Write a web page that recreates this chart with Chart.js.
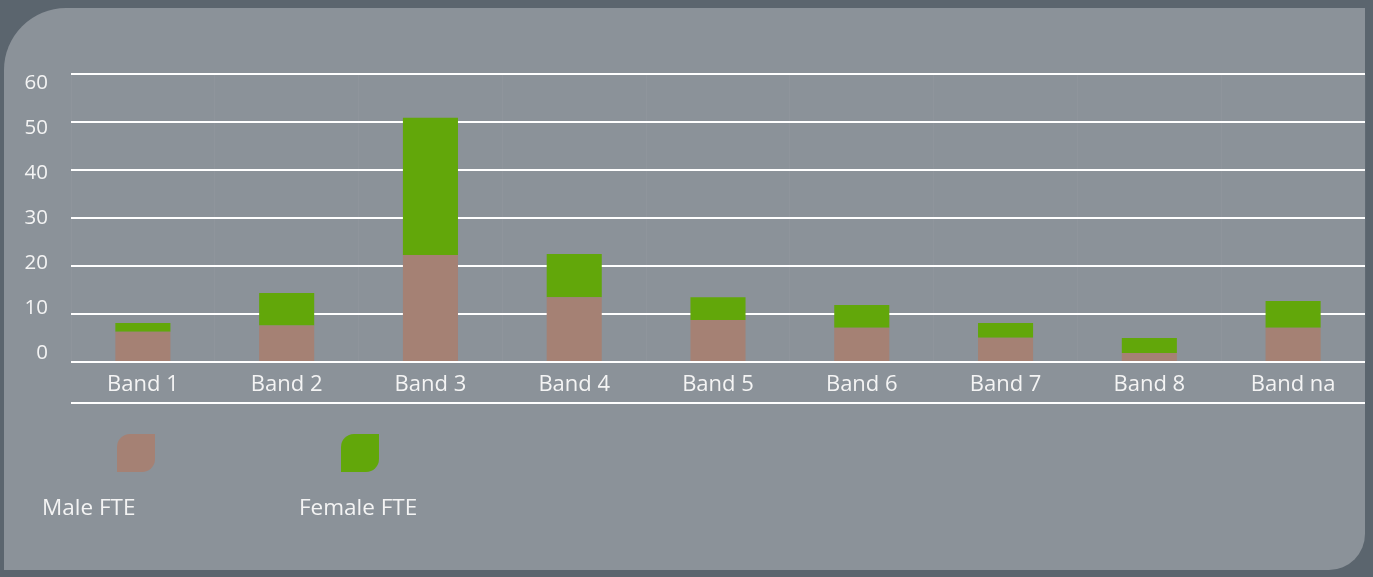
<!DOCTYPE html>
<html>
<head>
<meta charset="utf-8">
<script src="https://cdn.jsdelivr.net/npm/chart.js@4/dist/chart.umd.min.js"></script>
<style>
  html, body { margin: 0; padding: 0; background: #5b656e; }
  #wrap { position: relative; width: 1373px; height: 577px; overflow: hidden; }
  #panel {
    position: absolute; left: 4px; top: 8px; width: 1361px; height: 562px;
    background: #8b9299; border-radius: 62px 0 36px 0;
  }
  #myChart { position: absolute; left: 0; top: 0; }
</style>
</head>
<body>
<div id="wrap">
  <div id="panel"></div>
  <canvas id="myChart" width="1373" height="577"></canvas>
</div>
<script>
// categories and series
var bands = ["Band 1", "Band 2", "Band 3", "Band 4", "Band 5", "Band 6", "Band 7", "Band 8", "Band na"];
var maleFte = [6.3, 7.6, 22.3, 13.5, 8.75, 7.15, 5.05, 1.9, 7.15];
var femaleFte = [1.8, 6.8, 28.6, 9.0, 4.75, 4.75, 3.05, 3.1, 5.55];
var yTicks = [0, 10, 20, 30, 40, 50, 60];

var seriesNames = ["Male FTE", "Female FTE"];
var barColors = ["#a58174", "#62a70a"];

var fontFam = "'Open Sans', 'DejaVu Sans', sans-serif";

// extra line under the labels + legend with leaf shaped markers
var decor = {
  id: "decor",
  afterDraw: function (chart) {
    var ctx = chart.ctx;
    var x = chart.scales.x;
    ctx.save();
    ctx.strokeStyle = "#ffffff";
    ctx.lineWidth = 2;
    ctx.beginPath();
    ctx.moveTo(chart.chartArea.left, x.top + 41);
    ctx.lineTo(chart.chartArea.right, x.top + 41);
    ctx.stroke();

    var iconX = [117, 341];
    var textX = [42, 299];
    chart.data.datasets.forEach(function (ds, i) {
      ctx.fillStyle = ds.backgroundColor;
      ctx.beginPath();
      ctx.roundRect(iconX[i], 434, 38, 38, [13, 0, 13, 0]);
      ctx.fill();
      ctx.fillStyle = "#f4f4f4";
      ctx.font = "22.5px " + fontFam;
      ctx.textBaseline = "middle";
      ctx.textAlign = "left";
      ctx.fillText(ds.label, textX[i], 509);
    });
    ctx.restore();
  }
};

new Chart("myChart", {
  type: "bar",
  data: {
    labels: bands,
    datasets: [
      { label: seriesNames[0], data: maleFte, backgroundColor: barColors[0] },
      { label: seriesNames[1], data: femaleFte, backgroundColor: barColors[1] }
    ]
  },
  options: {
    responsive: false,
    animation: false,
    layout: { padding: { left: 0, right: 8, top: 74, bottom: 165 } },
    datasets: {
      bar: { categoryPercentage: 1, barPercentage: 0.383 }
    },
    plugins: {
      legend: { display: false },
      tooltip: { enabled: false }
    },
    scales: {
      x: {
        stacked: true,
        offset: true,
        grid: { display: true, color: "rgba(255,255,255,0.035)", drawTicks: false },
        border: { display: false },
        ticks: { color: "#f4f4f4", font: { family: fontFam, size: 22 }, padding: 10 },
        afterFit: function (s) { s.height = 50; }
      },
      y: {
        stacked: true,
        min: 0,
        max: 60,
        position: "left",
        ticks: { display: false, stepSize: 10 },
        grid: { color: "#ffffff", lineWidth: 2, drawTicks: false },
        border: { display: false },
        afterFit: function (s) { s.width = 0; }
      },
      yl: {
        // tick label axis (labels are spaced a bit tighter than the gridlines)
        position: "left",
        min: -2,
        max: 62,
        grid: { display: false, drawTicks: false },
        border: { display: false },
        ticks: { color: "#f4f4f4", font: { family: fontFam, size: 20.5 }, padding: 23, stepSize: 10 },
        afterBuildTicks: function (s) {
          s.ticks = yTicks.map(function (v) { return { value: v }; });
        },
        afterFit: function (s) { s.width = 71; }
      }
    }
  },
  plugins: [decor]
});
</script>
</body>
</html>
